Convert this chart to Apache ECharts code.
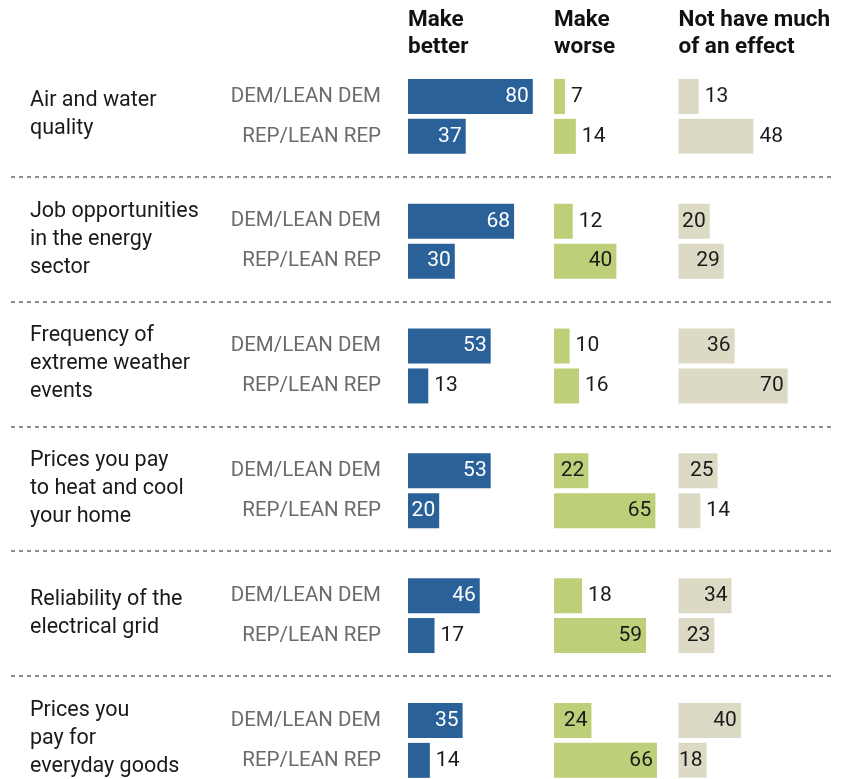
<!DOCTYPE html>
<html><head><meta charset="utf-8">
<script src="https://cdn.jsdelivr.net/npm/echarts@6/dist/echarts.min.js"></script>
<style>html,body{margin:0;padding:0;background:#fff}#c{width:842px;height:779px}</style>
</head><body><div id="c"></div>
<script>
const groupLabels = ['Air and water\nquality', 'Job opportunities\nin the energy\nsector', 'Frequency of\nextreme weather\nevents', 'Prices you pay\nto heat and cool\nyour home', 'Reliability of the\nelectrical grid', 'Prices you\npay for\neveryday goods'];
const rowLabels = ['DEM/LEAN DEM', 'REP/LEAN REP'];
const panelTitles = ['Make\nbetter', 'Make\nworse', 'Not have much\nof an effect'];
const betterDem = [80, 68, 53, 53, 46, 35];
const betterRep = [37, 30, 13, 20, 17, 14];
const worseDem = [7, 12, 10, 22, 18, 24];
const worseRep = [14, 40, 16, 65, 59, 66];
const noneDem = [13, 20, 36, 25, 34, 40];
const noneRep = [48, 29, 70, 14, 23, 18];

const FONT = 'Roboto, "Noto Sans", sans-serif';
const TOP_BARS = 54, TOP_SEP = 52, H = 748.8, PW = 156;
const panelLeft = [408, 554, 678.5];
const colors = ['#2a6199', '#bdcf78', '#dcdac4'];
const insideColor = ['#ffffff', '#1a1a1a', '#1a1a1a'];
const threshold = [20, 20, 18];
const forceOutside = { '2-1-0': true };
const panels = [[betterDem, betterRep], [worseDem, worseRep], [noneDem, noneRep]];
const cats = groupLabels.map((_, i) => 'g' + i);

const grid = panelLeft.map(l => ({ left: l, top: TOP_BARS, width: PW, height: H, outerBoundsMode: 'none', containLabel: false }));
grid.push({ left: 11, right: 8, top: TOP_SEP, height: H, outerBoundsMode: 'none', containLabel: false });

const xAxis = grid.map((g, i) => ({
  gridIndex: i, type: 'value', min: 0, max: i < 3 ? 100 : 1, show: false
}));

const yAxis = [];
for (let i = 0; i < 3; i++) {
  yAxis.push({
    gridIndex: i, type: 'category', data: cats, inverse: true,
    axisLine: { show: false }, axisTick: { show: false }, splitLine: { show: false },
    axisLabel: {
      show: i === 0, margin: 27, align: 'right',
      formatter: () => rowLabels.join('\n'),
      lineHeight: 40, fontSize: 20.5, color: '#6b6b6b', fontFamily: FONT
    }
  });
}
yAxis.push({
  gridIndex: 3, type: 'category', data: cats, inverse: true,
  axisLine: { show: false }, axisTick: { show: false },
  splitLine: { show: true, interval: (idx) => idx > 0, lineStyle: { color: '#8c8c8c', width: 2, type: [4, 4] } },
  axisLabel: {
    show: true, inside: true, margin: 19, align: 'left',
    formatter: (v) => groupLabels[+v.slice(1)],
    lineHeight: 28, fontSize: 21.5, color: '#1a1a1a', fontFamily: FONT
  }
});

const series = [];
panels.forEach((pair, p) => {
  pair.forEach((vals, r) => {
    series.push({
      type: 'bar', xAxisIndex: p, yAxisIndex: p,
      barWidth: 35, barGap: '14%',
      itemStyle: { color: colors[p] },
      silent: true,
      data: vals.map((v, k) => {
        const inside = v >= threshold[p] && !forceOutside[p + '-' + r + '-' + k];
        return {
          value: v,
          label: {
            show: true, position: inside ? 'insideRight' : 'right',
            distance: inside ? 4 : 6,
            color: inside ? insideColor[p] : '#1a1a1a',
            fontSize: 21, fontFamily: FONT
          }
        };
      })
    });
  });
});

const title = panelTitles.map((t, i) => ({
  text: t, left: panelLeft[i], top: 7, padding: 0,
  textStyle: { fontSize: 22.5, fontWeight: 'bold', lineHeight: 27, color: '#111', fontFamily: FONT }
}));

const chart = echarts.init(document.getElementById('c'), null, { renderer: 'canvas' });
chart.setOption({
  backgroundColor: '#ffffff',
  animation: false,
  title, grid, xAxis, yAxis, series
});
</script>
</body></html>
